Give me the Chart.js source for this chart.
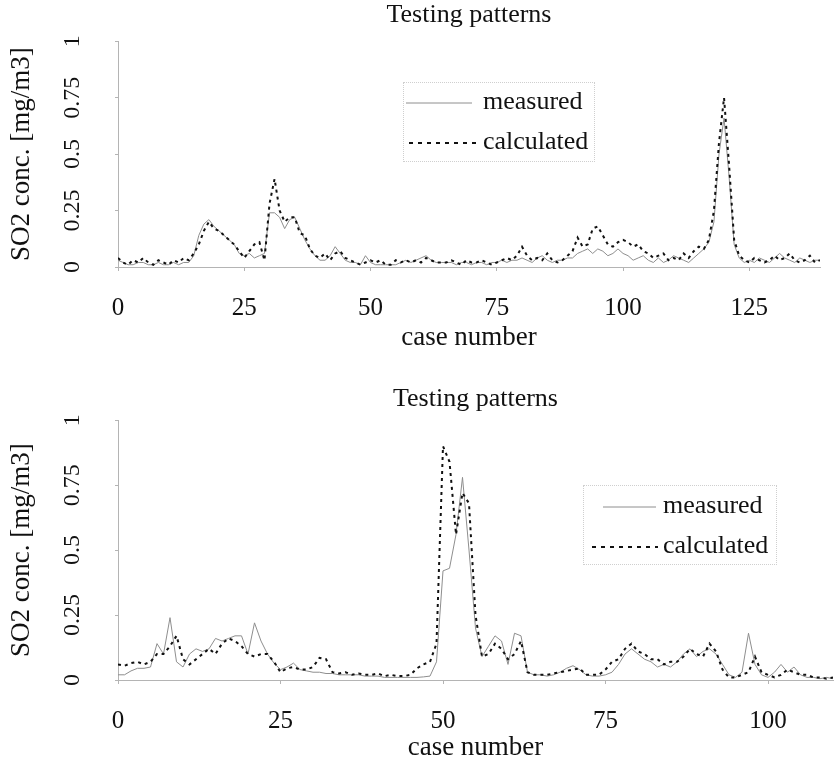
<!DOCTYPE html>
<html>
<head>
<meta charset="utf-8">
<script src="https://cdn.jsdelivr.net/npm/chart.js@4.4.1/dist/chart.umd.min.js"></script>
<style>
  html, body { margin: 0; padding: 0; background: #fff; }
  body { width: 837px; height: 764px; overflow: hidden; position: relative; }
  .pane { position: absolute; left: 0; }
  .legend { position: absolute; border: 1px dotted #cfcfcf; box-sizing: border-box; }
  .legend .row { position: absolute; left: 0; right: 0; height: 34px; }
  .legend svg { position: absolute; top: 0; }
  .legend span { position: absolute; top: 0; line-height: 34px; font: 26px "Liberation Serif", "DejaVu Serif", serif; color: #111; white-space: nowrap; }
</style>
</head>
<body>
<div class="pane" style="top:0"><canvas id="chartTop" width="837" height="354"></canvas></div>
<div class="pane" style="top:351px"><canvas id="chartBottom" width="837" height="413"></canvas></div>
<div class="legend" id="legendTop" style="left:403px;top:82px;width:192px;height:80px"></div>
<div class="legend" id="legendBottom" style="left:583px;top:485px;width:194px;height:80px"></div>
<script>
const TITLE = 'Testing patterns';
const X_TITLE = 'case number';
const Y_TITLE = 'SO2 conc. [mg/m3]';
const seriesNames = ['measured', 'calculated'];

const yTickValues = [0, 0.25, 0.5, 0.75, 1];
const yTickLabels = ['0', '0.25', '0.5', '0.75', '1'];
const xTicksTop = [0, 25, 50, 75, 100, 125];
const xTicksBottom = [0, 25, 50, 75, 100];

// upper panel, cases 0..139
const measuredTop = [
  0.03, 0.02, 0.01, 0.01, 0.02, 0.02, 0.01, 0.01, 0.02, 0.01,
  0.01, 0.02, 0.01, 0.02, 0.02, 0.05, 0.14, 0.19, 0.21, 0.18,
  0.16, 0.14, 0.12, 0.10, 0.06, 0.05, 0.06, 0.04, 0.05, 0.06,
  0.24, 0.24, 0.22, 0.17, 0.21, 0.22, 0.17, 0.12, 0.08, 0.05,
  0.03, 0.03, 0.05, 0.09, 0.06, 0.03, 0.02, 0.02, 0.01, 0.05,
  0.02, 0.01, 0.01, 0.01, 0.01, 0.01, 0.02, 0.03, 0.02, 0.03,
  0.04, 0.05, 0.03, 0.02, 0.02, 0.02, 0.02, 0.01, 0.02, 0.02,
  0.01, 0.02, 0.02, 0.01, 0.02, 0.02, 0.03, 0.02, 0.03, 0.03,
  0.04, 0.03, 0.02, 0.04, 0.05, 0.03, 0.02, 0.03, 0.03, 0.04,
  0.04, 0.06, 0.07, 0.08, 0.06, 0.08, 0.07, 0.05, 0.06, 0.08,
  0.06, 0.05, 0.03, 0.04, 0.05, 0.03, 0.02, 0.04, 0.02, 0.03,
  0.05, 0.04, 0.03, 0.02, 0.04, 0.06, 0.08, 0.11, 0.20, 0.50,
  0.66, 0.40, 0.10, 0.04, 0.02, 0.03, 0.02, 0.04, 0.03, 0.02,
  0.04, 0.06, 0.04, 0.03, 0.02, 0.04, 0.03, 0.02, 0.03, 0.03
];
const calculatedTop = [
  0.04, 0.02, 0.01, 0.03, 0.02, 0.04, 0.02, 0.01, 0.03, 0.02,
  0.01, 0.03, 0.02, 0.04, 0.03, 0.06, 0.10, 0.16, 0.20, 0.17,
  0.16, 0.14, 0.12, 0.10, 0.07, 0.04, 0.07, 0.10, 0.11, 0.03,
  0.28, 0.39, 0.25, 0.20, 0.22, 0.22, 0.15, 0.14, 0.08, 0.05,
  0.04, 0.06, 0.03, 0.06, 0.07, 0.04, 0.03, 0.02, 0.01, 0.02,
  0.03, 0.02, 0.03, 0.01, 0.01, 0.03, 0.02, 0.03, 0.02, 0.03,
  0.02, 0.04, 0.03, 0.02, 0.02, 0.02, 0.03, 0.02, 0.01, 0.03,
  0.02, 0.02, 0.03, 0.02, 0.01, 0.02, 0.03, 0.04, 0.03, 0.05,
  0.09, 0.05, 0.03, 0.04, 0.03, 0.06, 0.03, 0.02, 0.03, 0.05,
  0.07, 0.13, 0.09, 0.10, 0.17, 0.18, 0.14, 0.10, 0.09, 0.11,
  0.12, 0.11, 0.09, 0.10, 0.07, 0.06, 0.04, 0.05, 0.06, 0.03,
  0.04, 0.03, 0.06, 0.04, 0.07, 0.09, 0.08, 0.12, 0.25, 0.55,
  0.75, 0.45, 0.12, 0.05, 0.03, 0.02, 0.04, 0.03, 0.02, 0.03,
  0.05, 0.03, 0.04, 0.06, 0.03, 0.02, 0.03, 0.05, 0.02, 0.03
];

// lower panel, cases 0..110
const measuredBottom = [
  0.02, 0.02, 0.035, 0.045, 0.045, 0.05, 0.14, 0.10, 0.24, 0.07,
  0.05, 0.10, 0.12, 0.11, 0.12, 0.16, 0.15, 0.16, 0.17, 0.17,
  0.10, 0.22, 0.15, 0.10, 0.065, 0.04, 0.05, 0.065, 0.04, 0.035,
  0.03, 0.03, 0.025, 0.025, 0.02, 0.02, 0.02, 0.02, 0.015, 0.015,
  0.015, 0.01, 0.01, 0.01, 0.01, 0.01, 0.01, 0.012, 0.015, 0.07,
  0.42, 0.43, 0.56, 0.78, 0.50, 0.20, 0.09, 0.13, 0.17, 0.15,
  0.06, 0.18, 0.17, 0.03, 0.02, 0.02, 0.015, 0.02, 0.03, 0.045,
  0.055, 0.04, 0.02, 0.015, 0.015, 0.02, 0.03, 0.06, 0.10, 0.12,
  0.10, 0.08, 0.07, 0.05, 0.06, 0.05, 0.07, 0.10, 0.12, 0.09,
  0.11, 0.12, 0.10, 0.06, 0.02, 0.01, 0.03, 0.18, 0.06, 0.02,
  0.01, 0.03, 0.06, 0.03, 0.05, 0.02, 0.01, 0.01, 0.005, 0.01,
  0.005
];
const calculatedBottom = [
  0.06, 0.055, 0.065, 0.07, 0.06, 0.07, 0.10, 0.10, 0.13, 0.17,
  0.08, 0.06, 0.08, 0.10, 0.12, 0.10, 0.14, 0.16, 0.15, 0.13,
  0.10, 0.09, 0.10, 0.10, 0.07, 0.03, 0.045, 0.05, 0.04, 0.04,
  0.05, 0.085, 0.08, 0.03, 0.025, 0.03, 0.02, 0.025, 0.02, 0.02,
  0.025, 0.015, 0.02, 0.015, 0.015, 0.02, 0.045, 0.06, 0.07, 0.14,
  0.90, 0.84, 0.56, 0.72, 0.68, 0.25, 0.09, 0.10, 0.14, 0.12,
  0.08, 0.10, 0.15, 0.03, 0.02, 0.02, 0.02, 0.025, 0.03, 0.035,
  0.04, 0.045, 0.02, 0.02, 0.02, 0.04, 0.07, 0.08, 0.12, 0.14,
  0.11, 0.10, 0.08, 0.08, 0.06, 0.07, 0.07, 0.09, 0.12, 0.10,
  0.09, 0.14, 0.11, 0.04, 0.01, 0.01, 0.02, 0.03, 0.09, 0.03,
  0.02, 0.01, 0.02, 0.04, 0.03, 0.02, 0.02, 0.01, 0.01, 0.005,
  0.01
];

const casesTop = measuredTop.map((_, i) => i);
const casesBottom = measuredBottom.map((_, i) => i);

const FONT = '"Liberation Serif", "DejaVu Serif", serif';
const INK = '#111';
const MEASURED_COLOR = '#8e8e8e';
const AXIS_COLOR = '#b4b4b4';

function makeChart(canvas, cases, measured, calculated, xMax, xTicks, lay) {
  return new Chart(canvas, {
    type: 'line',
    data: {
      labels: cases,
      datasets: [
        {
          label: seriesNames[0],
          data: measured,
          borderColor: MEASURED_COLOR,
          borderWidth: 1,
          pointRadius: 0,
          tension: 0,
          order: 2,
        },
        {
          label: seriesNames[1],
          data: calculated,
          borderColor: INK,
          borderWidth: 2,
          borderDash: [3, 4],
          pointRadius: 0,
          tension: 0,
          order: 1,
        },
      ],
    },
    options: {
      responsive: false,
      animation: false,
      events: [],
      layout: { padding: { left: 0, right: lay.right, top: 0, bottom: 0 } },
      plugins: {
        legend: { display: false },
        tooltip: { enabled: false },
        title: {
          display: true,
          text: TITLE,
          fullSize: false,
          color: INK,
          font: { family: FONT, size: 26, weight: 'normal' },
          padding: lay.titlePad,
        },
      },
      scales: {
        x: {
          type: 'linear',
          min: 0,
          max: xMax,
          afterBuildTicks: (s) => { s.ticks = xTicks.map((v) => ({ value: v })); },
          afterFit: (s) => { s.height = lay.xHeight; s.paddingLeft = 0; s.paddingRight = 0; },
          grid: { display: true, drawOnChartArea: false, drawTicks: true, tickLength: 4, color: AXIS_COLOR },
          border: { display: true, color: AXIS_COLOR, width: 1, dash: [3, 2] },
          ticks: { color: INK, font: { family: FONT, size: 25 }, padding: 22, maxRotation: 0 },
          title: {
            display: true,
            text: X_TITLE,
            color: INK,
            font: { family: FONT, size: 27 },
            padding: { top: 0, bottom: 0 },
          },
        },
        y: {
          min: 0,
          max: 1,
          afterBuildTicks: (s) => { s.ticks = yTickValues.map((v) => ({ value: v })); },
          afterFit: (s) => { s.width = 118; s.paddingTop = 0; s.paddingBottom = 0; },
          grid: { display: true, drawOnChartArea: false, drawTicks: true, tickLength: 3, color: AXIS_COLOR },
          border: { display: true, color: AXIS_COLOR, width: 1, dash: [3, 2] },
          ticks: {
            color: INK,
            font: { family: FONT, size: 24 },
            minRotation: 90,
            maxRotation: 90,
            crossAlign: 'center',
            padding: 21,
            callback: (v) => yTickLabels[yTickValues.indexOf(v)],
          },
          title: {
            display: true,
            text: Y_TITLE,
            color: INK,
            font: { family: FONT, size: 27 },
            padding: { top: 6, bottom: 0 },
          },
        },
      },
    },
  });
}

function buildLegend(el, rows) {
  rows.forEach((r, i) => {
    const row = document.createElement('div');
    row.className = 'row';
    row.style.top = r.top + 'px';
    const dash = i === 0 ? '' : ' stroke-dasharray="4 5"';
    const w = i === 0 ? 1 : 2;
    const color = i === 0 ? MEASURED_COLOR : INK;
    row.innerHTML =
      `<svg style="left:${r.x1}px" width="${r.x2 - r.x1}" height="34">` +
      `<line x1="0" y1="17" x2="${r.x2 - r.x1}" y2="17" stroke="${color}" stroke-width="${w}"${dash}/></svg>` +
      `<span style="left:${r.tx}px">${seriesNames[i]}</span>`;
    el.appendChild(row);
  });
}

makeChart(document.getElementById('chartTop'), casesTop, measuredTop, calculatedTop, 139, xTicksTop,
  { right: 17, xHeight: 87, titlePad: { top: 0, bottom: 10 } });
makeChart(document.getElementById('chartBottom'), casesBottom, measuredBottom, calculatedBottom, 110, xTicksBottom,
  { right: 4, xHeight: 84, titlePad: { top: 33, bottom: 5 } });

buildLegend(document.getElementById('legendTop'), [
  { top: 3, x1: 2, x2: 68, tx: 79 },
  { top: 43, x1: 5, x2: 76, tx: 79 },
]);
buildLegend(document.getElementById('legendBottom'), [
  { top: 4, x1: 19, x2: 72, tx: 79 },
  { top: 44, x1: 8, x2: 74, tx: 79 },
]);
</script>
</body>
</html>
